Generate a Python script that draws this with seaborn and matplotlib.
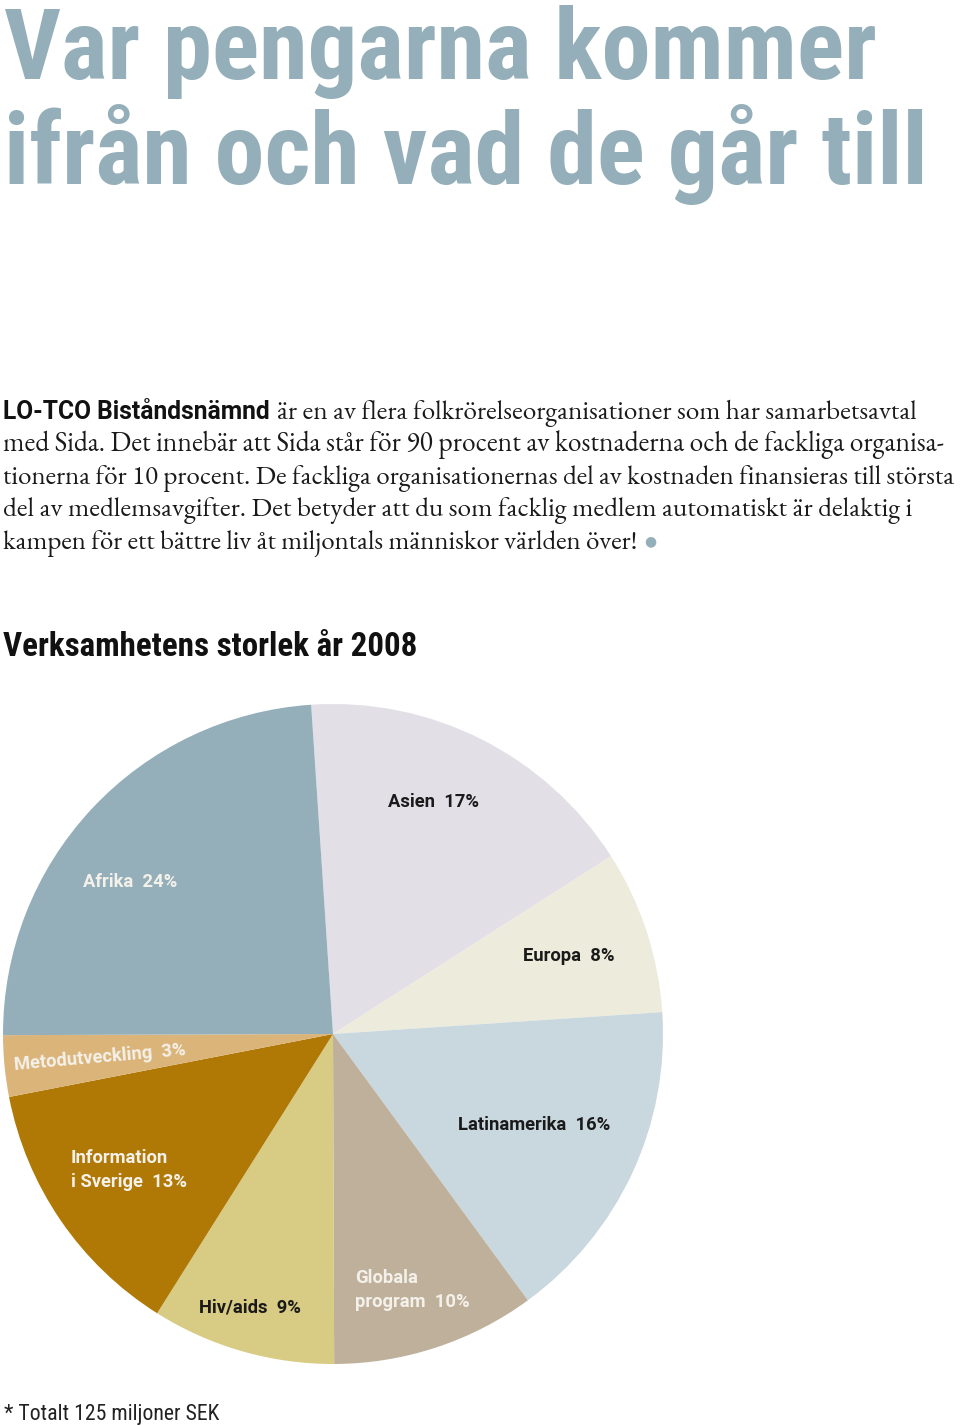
import matplotlib
matplotlib.use("Agg")
import matplotlib.pyplot as plt
import seaborn as sns

# ---------------- data ----------------
categories = ["Asien", "Europa", "Latinamerika", "Globala\nprogram", "Hiv/aids",
              "Information\ni Sverige", "Metodutveckling", "Afrika"]
shares = [17, 8, 16, 10, 9, 13, 3, 24]
slice_colors = ["#e2dfe7", "#ecebdc", "#c9d7de", "#bfb09b", "#d8cb84",
                "#b07804", "#dbb47a", "#94afb9"]
label_colors = ["#1a1a1a", "#1a1a1a", "#1a1a1a", "#f4f1ea", "#1a1a1a",
                "#f4f1ea", "#f4f1ea", "#f4f1ea"]

title_lines = ["Var pengarna kommer", "ifrån och vad de går till"]
lead_bold = "LO-TCO Biståndsnämnd"
body_lines = [
    "är en av flera folkrörelseorganisationer som har samarbetsavtal",
    "med Sida. Det innebär att Sida står för 90 procent av kostnaderna och de fackliga organisa-",
    "tionerna för 10 procent. De fackliga organisationernas del av kostnaden finansieras till största",
    "del av medlemsavgifter. Det betyder att du som facklig medlem automatiskt är delaktig i",
    "kampen för ett bättre liv åt miljontals människor världen över!",
]
chart_title = "Verksamhetens storlek år 2008"
footnote = "* Totalt 125 miljoner SEK"

# ---------------- style ----------------
sns.set_theme(style="white")
plt.rcParams["font.family"] = ["Roboto", "DejaVu Sans"]

W, H = 960, 1426
fig = plt.figure(figsize=(W / 100, H / 100), dpi=100)
fig.patch.set_facecolor("white")
renderer = fig.canvas.get_renderer()

TITLE_COLOR = "#94afb9"


def fx(px):
    return px / W


def fy(py):
    return 1 - py / H


def fit(t, width_px):
    bb = t.get_window_extent(renderer=renderer)
    t.set_fontsize(t.get_fontsize() * width_px / bb.width)
    return t


# main title
t1 = fig.text(fx(4), fy(79), title_lines[0], family=["Roboto Condensed", "DejaVu Sans"],
              fontweight="bold", color=TITLE_COLOR, fontsize=70, va="baseline", ha="left")
fit(t1, 873)
t2 = fig.text(fx(4), fy(184), title_lines[1], family=["Roboto Condensed", "DejaVu Sans"],
              fontweight="bold", color=TITLE_COLOR, fontsize=70, va="baseline", ha="left")
fit(t2, 924)

# body text
serif = ["EB Garamond", "Liberation Serif", "DejaVu Serif"]
baselines = [419, 451, 484, 516, 549]
right_edges = [915, 944, 957, 910, 640]

tb = fig.text(fx(3), fy(baselines[0]), lead_bold, family=["Roboto", "DejaVu Sans"],
              fontweight="bold", color="#111111", fontsize=17, va="baseline", ha="left")
fit(tb, 268)
bb = tb.get_window_extent(renderer=renderer)
x_start = bb.x1 + 7
t = fig.text(x_start / W, fy(baselines[0]), body_lines[0], family=serif, fontsize=17,
             color="#1a1a1a", va="baseline", ha="left")
fit(t, right_edges[0] - x_start)
for line, yb, xr in zip(body_lines[1:], baselines[1:], right_edges[1:]):
    last = fig.text(fx(3), fy(yb), line, family=serif, fontsize=17,
                    color="#1a1a1a", va="baseline", ha="left")
    fit(last, xr - 3)
lb = last.get_window_extent(renderer=renderer)
fig.text((lb.x1 + 13) / W, fy(541), "\u25cf", family=["DejaVu Sans"], fontsize=10,
         color=TITLE_COLOR, ha="center", va="center")

# chart heading
th = fig.text(fx(3), fy(656), chart_title, family=["Roboto Condensed", "DejaVu Sans"],
              fontweight="bold", color="#111111", fontsize=22, va="baseline", ha="left")
fit(th, 414)

# footnote
tf = fig.text(fx(4), fy(1420), footnote, family=["Roboto Condensed", "DejaVu Sans"],
              color="#222222", fontsize=14, va="baseline", ha="left")
fit(tf, 216)

# ---------------- pie ----------------
R = 330
cx, cy = 333, 1034
ax = fig.add_axes([fx(cx - R), 1 - (cy + R) / H, 2 * R / W, 2 * R / H])
ax.pie(shares, colors=slice_colors, startangle=93.8, counterclock=False,
       wedgeprops=dict(linewidth=0, antialiased=True))
ax.set_xlim(-1, 1)
ax.set_ylim(-1, 1)
ax.set_aspect("equal")
ax.axis("off")

label_text = [f"{c}  {s}%" for c, s in zip(categories, shares)]
# label anchor points in pixel space (left edge, baseline)
label_pos = [(388, 807), (523, 961), (458, 1130), (355, 1307), (199, 1312),
             (71, 1187), (100, 1058), (83, 887)]


def to_data(px, py):
    return (px - cx) / R, (cy - py) / R


for i, (txt, (px, py)) in enumerate(zip(label_text, label_pos)):
    x, y = to_data(px, py)
    kw = dict(family=["Roboto", "DejaVu Sans"], fontweight="bold", fontsize=13.2,
              color=label_colors[i])
    if categories[i] == "Metodutveckling":
        ax.text(x, y, txt, ha="center", va="center", rotation=5,
                rotation_mode="anchor", **kw)
    elif "\n" in txt:
        ax.text(x, y, txt, ha="left", va="baseline", linespacing=1.45, **kw)
    else:
        ax.text(x, y, txt, ha="left", va="baseline", **kw)

fig.savefig("out.png", dpi=100, facecolor="white")
